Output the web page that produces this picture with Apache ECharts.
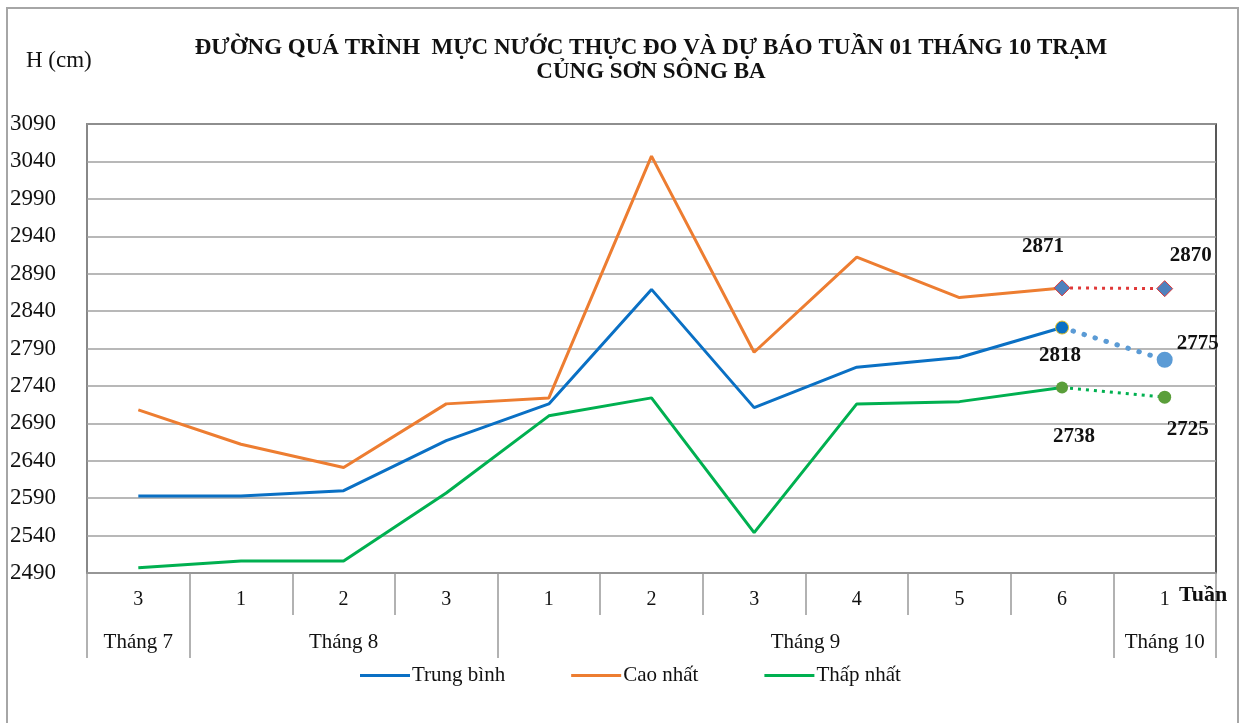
<!DOCTYPE html>
<html>
<head>
<meta charset="utf-8">
<script src="https://cdn.jsdelivr.net/npm/echarts@6/dist/echarts.min.js"></script>
<style>
html, body { margin: 0; padding: 0; background: #fff; }
#chart { width: 1241px; height: 723px; }
</style>
</head>
<body>
<div id="chart"></div>
<script>
// tuần (tick labels hàng 1)
var weeks = ['3', '1', '2', '3', '1', '2', '3', '4', '5', '6', '1'];
// tháng (hàng 2): ranh giới và vị trí giữa nhóm, theo số thứ tự tuần
var monthNames = ['Tháng 7', 'Tháng 8', 'Tháng 9', 'Tháng 10'];
var monthBounds = [0, 1, 4, 10, 11];
var monthCenters = [0.5, 2.5, 7, 10.5];

// thực đo
var trungBinh = [2593, 2593, 2600, 2667, 2716, 2869, 2711, 2765, 2778, 2818];
var caoNhat = [2708, 2662, 2631, 2716, 2724, 3047, 2785, 2912, 2858, 2871];
var thapNhat = [2497, 2506, 2506, 2597, 2700, 2724, 2544, 2716, 2719, 2738];
// dự báo tuần 01 tháng 10
var duBaoTB = 2775;
var duBaoCao = 2870;
var duBaoThap = 2725;

var FONT = 'Liberation Serif';
var myChart = echarts.init(document.getElementById('chart'));

function lastLabel(offset) {
    return {
        show: true,
        position: 'top',
        offset: offset,
        fontFamily: FONT,
        fontWeight: 'bold',
        fontSize: 21,
        color: '#111',
        formatter: '{c}'
    };
}

// đường thực đo: chỉ điểm cuối có marker + nhãn
function measured(values, sym, labelOffset) {
    var d = values.map(function (v, i) {
        if (i < values.length - 1) return v;
        return { value: v, symbol: sym.symbol, symbolSize: sym.size, itemStyle: sym.style, label: lastLabel(labelOffset) };
    });
    d.push(null);
    return d;
}

// đoạn dự báo: nối từ điểm cuối thực đo tới điểm dự báo
function forecast(values, v, sym, labelOffset) {
    var d = [];
    for (var i = 0; i < values.length - 1; i++) d.push(null);
    d.push({ value: values[values.length - 1], symbol: 'none' });
    d.push({ value: v, symbol: sym.symbol, symbolSize: sym.size, itemStyle: sym.style, label: lastLabel(labelOffset) });
    return d;
}

var option = {
    animation: false,
    textStyle: { fontFamily: FONT },
    title: [
        {
            text: 'ĐƯỜNG QUÁ TRÌNH  MỰC NƯỚC THỰC ĐO VÀ DỰ BÁO TUẦN 01 THÁNG 10 TRẠM\nCỦNG SƠN SÔNG BA',
            left: 646,
            top: 31,
            textAlign: 'center',
            textStyle: { fontFamily: FONT, fontWeight: 'bold', fontSize: 23, lineHeight: 24, color: '#111' }
        },
        {
            text: 'H (cm)',
            left: 21,
            top: 44,
            textStyle: { fontFamily: FONT, fontWeight: 'normal', fontSize: 23, color: '#111' }
        },
        {
            text: 'Tuần',
            left: 1174,
            top: 579,
            textStyle: { fontFamily: FONT, fontWeight: 'bold', fontSize: 22, color: '#111' }
        }
    ],
    graphic: [{
        type: 'rect',
        silent: true,
        z: -1,
        shape: { x: 7, y: 8, width: 1231, height: 730 },
        style: { fill: 'none', stroke: '#a6a6a6', lineWidth: 2 }
    }],
    legend: {
        data: ['Trung bình', 'Cao nhất', 'Thấp nhất'],
        left: 355,
        top: 660,
        icon: 'rect',
        itemWidth: 50,
        itemHeight: 3,
        itemGap: 66,
        textStyle: { fontFamily: FONT, fontSize: 21, color: '#111', padding: [0, 0, 0, -3] }
    },
    grid: {
        left: 87,
        right: 25,
        top: 124,
        bottom: 150,
        show: true,
        borderColor: '#222',
        borderWidth: 1.5
    },
    xAxis: [
        {
            type: 'category',
            data: weeks,
            boundaryGap: true,
            axisLine: { lineStyle: { color: '#999', width: 1.5 } },
            axisTick: { show: true, interval: 0, length: 42, lineStyle: { color: '#999', width: 1.5 } },
            axisLabel: { interval: 0, margin: 17, fontFamily: FONT, fontSize: 20, color: '#111' }
        },
        {
            type: 'value',
            min: 0,
            max: 11,
            position: 'bottom',
            offset: 0,
            axisLine: { show: false },
            splitLine: { show: false },
            axisTick: { show: true, customValues: monthBounds, length: 85, lineStyle: { color: '#999', width: 1.5 } },
            axisLabel: {
                customValues: monthCenters,
                margin: 59,
                fontFamily: FONT,
                fontSize: 21,
                color: '#111',
                formatter: function (v) { return monthNames[monthCenters.indexOf(v)]; }
            }
        }
    ],
    yAxis: {
        type: 'value',
        min: 2490,
        max: 3090,
        interval: 50,
        axisLine: { show: true, lineStyle: { color: '#999', width: 1.5 } },
        axisTick: { show: false },
        splitLine: { lineStyle: { color: '#a0a0a0', width: 1.5 } },
        axisLabel: {
            margin: 77,
            align: 'left',
            fontFamily: FONT,
            fontSize: 23,
            color: '#111',
            formatter: function (v) { return String(v); }
        }
    },
    series: [
        {
            name: 'Trung bình',
            type: 'line',
            color: '#0a70c4',
            symbol: 'none',
            lineStyle: { width: 3 },
            data: measured(trungBinh, { symbol: 'circle', size: 13, style: { color: '#0a70c4', borderColor: '#e8c020', borderWidth: 1 } }, [-2, 51])
        },
        {
            name: 'Cao nhất',
            type: 'line',
            color: '#ed7d31',
            symbol: 'none',
            lineStyle: { width: 3 },
            data: measured(caoNhat, { symbol: 'diamond', size: 16, style: { color: '#4f81bd', borderColor: '#e03838', borderWidth: 1 } }, [-19, -17])
        },
        {
            name: 'Thấp nhất',
            type: 'line',
            color: '#00b050',
            symbol: 'none',
            lineStyle: { width: 3 },
            data: measured(thapNhat, { symbol: 'circle', size: 12, style: { color: '#5a9e3a' } }, [12, 71])
        },
        {
            name: 'Dự báo trung bình',
            type: 'line',
            color: '#5b9bd5',
            lineStyle: { width: 5, type: [0.5, 11], cap: 'round' },
            data: forecast(trungBinh, duBaoTB, { symbol: 'circle', size: 16, style: { color: '#5b9bd5' } }, [33, 7])
        },
        {
            name: 'Dự báo cao nhất',
            type: 'line',
            color: '#e03838',
            lineStyle: { width: 3, type: [3, 5] },
            data: forecast(caoNhat, duBaoCao, { symbol: 'diamond', size: 16, style: { color: '#4f81bd', borderColor: '#e03838', borderWidth: 1 } }, [26, -9])
        },
        {
            name: 'Dự báo thấp nhất',
            type: 'line',
            color: '#00b050',
            lineStyle: { width: 3, type: [3, 5] },
            data: forecast(thapNhat, duBaoThap, { symbol: 'circle', size: 13, style: { color: '#5a9e3a' } }, [23, 54])
        }
    ]
};

myChart.setOption(option);
window.addEventListener('resize', function () { myChart.resize(); });
</script>
</body>
</html>
